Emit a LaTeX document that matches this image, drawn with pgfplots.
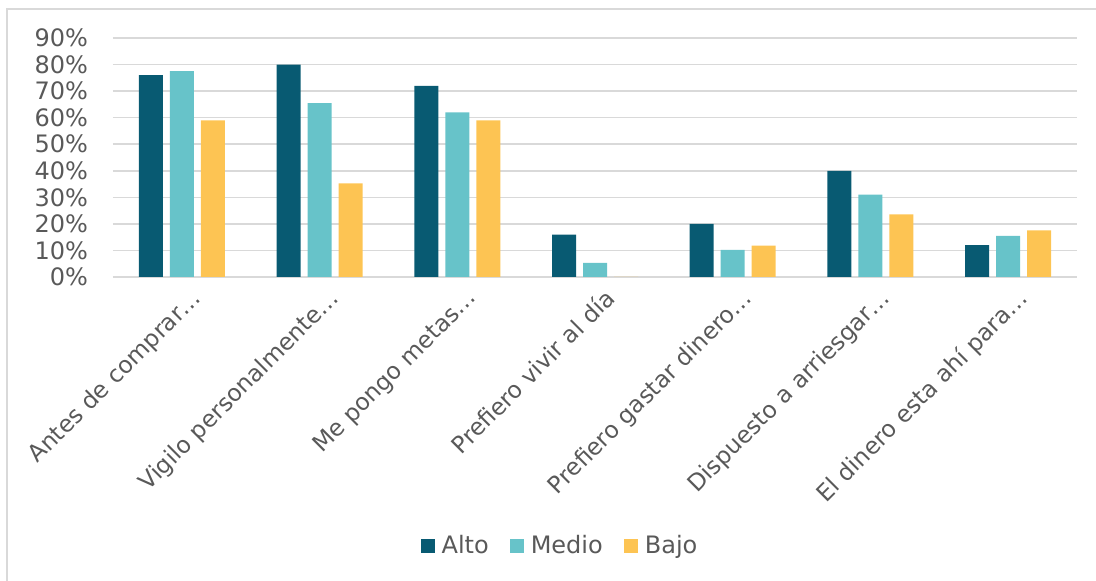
\documentclass[border=0pt]{standalone}
\usepackage{fontspec}
\setmainfont{DejaVu Sans}
\usepackage{pgfplots}
\pgfplotsset{compat=1.18}
\definecolor{alto}{HTML}{085A72}
\definecolor{medio}{HTML}{67C3C9}
\definecolor{bajo}{HTML}{FDC453}
\definecolor{txt}{HTML}{595959}
\definecolor{gridc}{HTML}{D9D9D9}
\begin{document}
\begin{tikzpicture}
\draw[gridc, line width=0.75pt] (-53pt,-160pt) -- (-53pt,134pt) -- (500pt,134pt);
\begin{axis}[name=ax, scale only axis, width=482pt, height=119.5pt,
  ybar=3.5pt, bar width=12pt,
  xmin=-0.5, xmax=6.5, ymin=0, ymax=90,
  xtick={0,...,6},
  xticklabels={Antes de comprar…, Vigilo personalmente…, Me pongo metas…, Prefiero vivir al día, Prefiero gastar dinero…, Dispuesto a arriesgar…, El dinero esta ahí para…},
  x tick label style={xshift=4pt, rotate=45, anchor=north east, font=\fontsize{11.7}{13}\selectfont, text=txt},
  ytick={0,10,...,90},
  yticklabel={\pgfmathprintnumber{\tick}\%},
  /pgf/number format/assume math mode=true,
  y tick label style={font=\fontsize{12}{13}\selectfont, text=txt, xshift=-9pt},
  ymajorgrids, grid style={gridc, line width=0.75pt},
  axis line style={draw=none}, major tick length=0pt,
  legend columns=3,
  legend style={draw=none, fill=none, at={(0.4647,-1.1255)}, anchor=center,
    font=\fontsize{12}{13}\selectfont, text=txt,
    /tikz/every odd column/.append style={column sep=1.5pt},
    /tikz/every even column/.append style={column sep=8.5pt}},
  legend image code/.code={\fill[#1] (0pt,-3.5pt) rectangle (7pt,3.5pt);},
]
\addplot[fill=alto, draw=none] coordinates {(0,76) (1,80) (2,72) (3,16) (4,20) (5,40) (6,12)};
\addplot[fill=medio, draw=none] coordinates {(0,77.5) (1,65.5) (2,62) (3,5.3) (4,10.2) (5,31) (6,15.5)};
\addplot[fill=bajo, draw=none] coordinates {(0,59) (1,35.3) (2,59) (3,0) (4,11.8) (5,23.6) (6,17.6)};
\legend{Alto, Medio, Bajo}
\end{axis}
\pgfresetboundingbox
\useasboundingbox (-56.5pt,-152pt) rectangle (491.5pt,138.5pt);
\end{tikzpicture}
\end{document}
